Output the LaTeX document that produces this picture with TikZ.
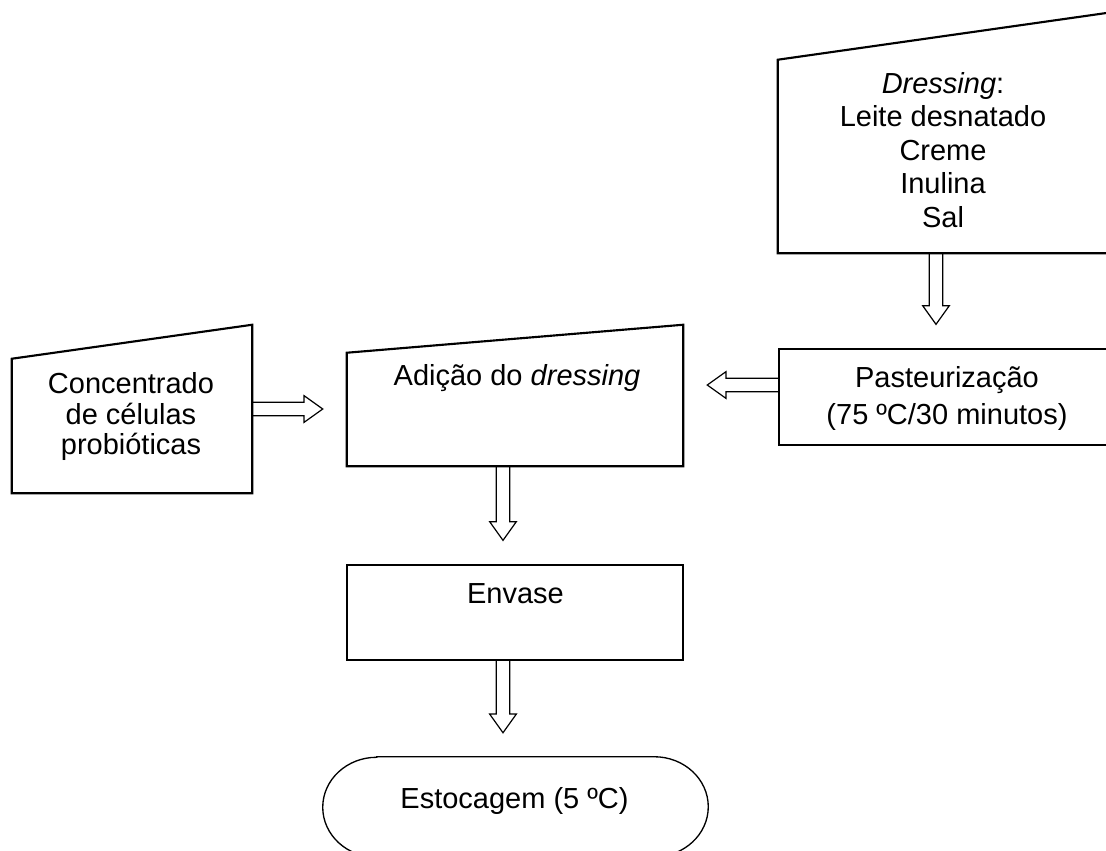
\documentclass[tikz,border=0pt]{standalone}
\usepackage{fontspec}
\setmainfont{Liberation Sans}
\usetikzlibrary{calc}

\newlength\px
\setlength\px{0.75pt}

\tikzstyle{box}=[rectangle, draw=black, line width=1pt, inner sep=0pt]
\tikzstyle{slanted}=[rectangle, inner sep=0pt]
\tikzstyle{slantLine}=[line width=1.6pt, line join=miter]
\tikzstyle{txt}=[anchor=north, inner sep=0pt, align=center]
\tikzstyle{hollow}=[line width=0.9pt, line join=miter, to path={
	let \p1=(\tikztostart), \p2=($(\tikztotarget)!18pt!(\tikztostart)$),
	\p3=($(\p2)!14pt!(\p1)$) in
	($(\p1)!5pt!90:(\p2)$) -- ($(\p3)!5pt!90:(\p2)$) -- ($(\p3)!10pt!90:(\p2)$)
	-- (\p2) -- ($(\p3)!10pt!-90:(\p2)$) -- ($(\p3)!5pt!-90:(\p2)$) -- ($(\p1)!5pt!-90:(\p2)$)}]

\begin{document}
\begin{tikzpicture}[x=\px, y=-\px]
	\clip (0,0) rectangle (1106,850);

	% Caixas
	\node(dress) at (943,133) [slanted, minimum width=330*\px, minimum height=240*\px] {};
	\node(past) at (947,397) [box, minimum width=336*\px, minimum height=96*\px] {};
	\node(conc) at (132,409) [slanted, minimum width=240*\px, minimum height=168*\px] {};
	\node(add) at (515,395.5) [slanted, minimum width=336*\px, minimum height=141*\px] {};
	\node(env) at (515,612.5) [box, minimum width=336*\px, minimum height=95*\px] {};
	\node(est) at (515.5,807) [slanted, minimum width=385*\px, minimum height=100*\px] {};

	\draw[slantLine] (dress.south west) -- ([yshift=-47*\px]dress.north west) -- (dress.north east) -- (dress.south east) -- cycle;
	\draw[slantLine] (conc.south west) -- ([yshift=-34*\px]conc.north west) -- (conc.north east) -- (conc.south east) -- cycle;
	\draw[slantLine] (add.south west) -- ([yshift=-28*\px]add.north west) -- (add.north east) -- (add.south east) -- cycle;
	\draw[line width=1pt] ([xshift=40.5pt]est.north west) -- ([xshift=-40.5pt]est.north east)
		arc[start angle=90, end angle=-90, x radius=40.5pt, y radius=37.5pt]
		-- ([xshift=40.5pt]est.south west)
		arc[start angle=270, end angle=90, x radius=40.5pt, y radius=37.5pt] -- cycle;

	% Textos
	\node(dressText) at (943,72) [txt, font=\fontsize{21.75}{25.1}\selectfont]
		{\textit{Dressing}:\\Leite desnatado\\Creme\\Inulina\\Sal};
	\node(pastText) at (947,366) [txt, font=\fontsize{21.75}{27.75}\selectfont]
		{Pasteurização\\(75 ºC/30 minutos)};
	\node(concText) at (131,372) [txt, font=\fontsize{21.75}{23.1}\selectfont]
		{Concentrado\\de células\\probióticas};
	\node(addText) at (517,364) [txt, font=\fontsize{21.75}{23.1}\selectfont] {Adição do \textit{dressing}};
	\node(envText) at (515.5,583) [txt, font=\fontsize{21.75}{23.1}\selectfont] {Envase};
	\node(estText) at (514.5,787) [txt, font=\fontsize{21.75}{23.1}\selectfont] {Estocagem (5 ºC)};

	% Setas
	\draw[hollow] ([xshift=-7*\px]dress.south) to ([xshift=-11*\px]past.north);
	\draw[hollow] ([yshift=12*\px]past.west) to ([yshift=10.5*\px]add.east);
	\draw[hollow] (conc.east) to (add.west |- conc.east);
	\draw[hollow] ([xshift=-12*\px]add.south) to ([xshift=-12*\px]env.north);
	\draw[hollow] ([xshift=-12*\px]env.south) to ([xshift=-12.5*\px]est.north);

\end{tikzpicture}
\end{document}
